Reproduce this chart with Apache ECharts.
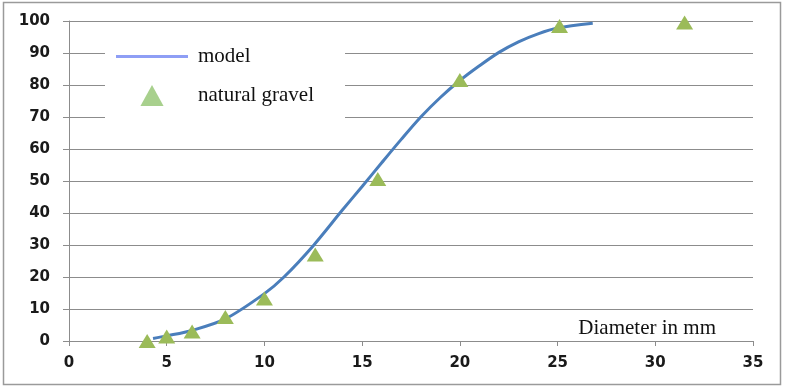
<!DOCTYPE html>
<html>
<head>
<meta charset="utf-8">
<script src="https://cdn.jsdelivr.net/npm/echarts@6/dist/echarts.min.js"></script>
<style>
  html, body { margin: 0; padding: 0; background: #fff; }
  #chart { width: 790px; height: 388px; }
</style>
</head>
<body>
<div id="chart"></div>
<script>
// model curve (diameter mm, % passing)
const modelX = [4.3, 5, 6.3, 8, 10, 11, 12.5, 14, 15, 16, 17, 18, 19, 20, 21, 22, 23, 24, 25, 26.8]
const modelY = [0.8, 1.6, 3.3, 6.9, 14.8, 20, 29.8, 41, 48.3, 55.7, 63, 70, 76.1, 81.4, 86, 90.2, 93.5, 96, 97.8, 99.3]
// natural gravel sieve results
const gravelX = [4, 5, 6.3, 8, 10, 12.6, 15.8, 20, 25.1, 31.5]
const gravelY = [0, 1.4, 3, 7.5, 13.3, 27, 50.6, 81.6, 98.4, 99.5]

const labelFont = `'DejaVu Sans', Verdana, sans-serif`
const serifFont = `'Liberation Serif', 'Times New Roman', serif`
const gridGray = '#8c8c8c'

const chart = echarts.init(document.getElementById('chart'))

chart.setOption({
  animation: false,
  backgroundColor: '#fff',
  graphic: [{
    type: 'rect',
    shape: { x: 3.5, y: 2.5, width: 777, height: 382 },
    style: { fill: 'none', stroke: '#9a9a9a', lineWidth: 1.5 },
    z: -1
  }],
  grid: {
    left: 69,
    right: 37,
    top: 21,
    bottom: 47
  },
  legend: {
    orient: 'vertical',
    left: 105,
    top: 40,
    padding: [6, 31, 14, 11],
    backgroundColor: '#fff',
    itemWidth: 72,
    itemHeight: 21,
    itemGap: 18,
    textStyle: {
      color: '#111',
      fontSize: 21,
      fontFamily: serifFont,
      padding: [0, 0, 0, 5]
    },
    data: [
      { name: 'model', icon: 'path://M0,0 L72,0 L72,3 L0,3 Z', itemStyle: { color: '#8e9ef5' } },
      { name: 'natural gravel', icon: 'path://M11,0 L22,20 L0,20 Z', itemStyle: { color: '#a8d08d' } }
    ],
    z: 5
  },
  xAxis: {
    type: 'value',
    min: 0,
    max: 35,
    interval: 5,
    name: 'Diameter in mm',
    nameLocation: 'end',
    nameGap: -10,
    nameTextStyle: {
      align: 'right',
      verticalAlign: 'bottom',
      color: '#111',
      fontSize: 21,
      fontFamily: serifFont,
      backgroundColor: '#fff',
      padding: [4, 27, 2, 10]
    },
    splitLine: { show: false },
    axisLine: { lineStyle: { color: gridGray, width: 1 } },
    axisTick: { show: true, length: 5, lineStyle: { color: gridGray } },
    axisLabel: {
      margin: 15,
      color: '#1a1a1a',
      fontSize: 15,
      fontWeight: 'bold',
      fontFamily: labelFont
    }
  },
  yAxis: {
    type: 'value',
    min: 0,
    max: 100,
    interval: 10,
    splitLine: { lineStyle: { color: gridGray, width: 1 } },
    axisLine: { show: true, lineStyle: { color: gridGray, width: 1 } },
    axisTick: { show: true, length: 6, lineStyle: { color: gridGray } },
    axisLabel: {
      margin: 19,
      color: '#1a1a1a',
      fontSize: 15,
      fontWeight: 'bold',
      fontFamily: labelFont
    }
  },
  series: [
    {
      name: 'model',
      type: 'line',
      smooth: 0.3,
      symbol: 'none',
      lineStyle: { color: '#4a7ebb', width: 3 },
      itemStyle: { color: '#4a7ebb' },
      data: modelX.map((x, i) => [x, modelY[i]]),
      z: 2
    },
    {
      name: 'natural gravel',
      type: 'scatter',
      symbol: 'triangle',
      symbolSize: [17, 14],
      itemStyle: { color: '#9bbb59', opacity: 1 },
      data: gravelX.map((x, i) => [x, gravelY[i]]),
      z: 3
    }
  ]
})
</script>
</body>
</html>
